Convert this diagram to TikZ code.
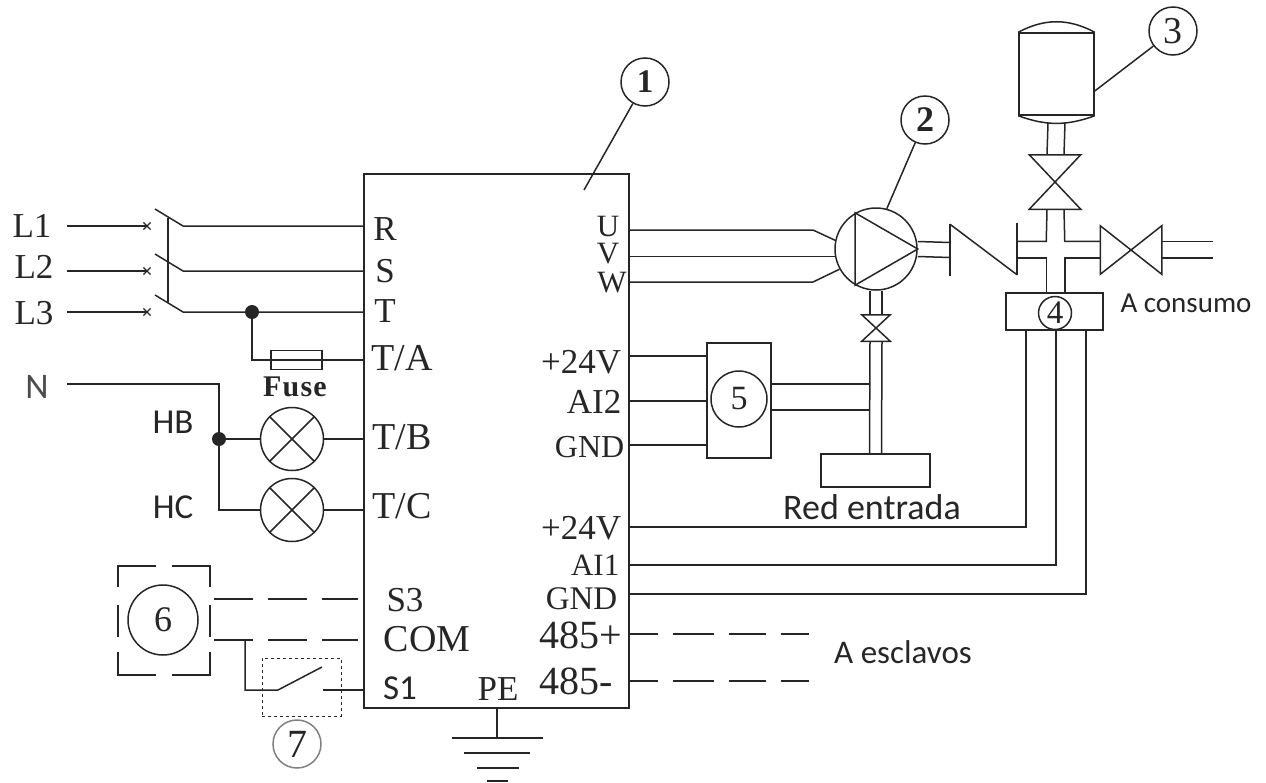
\documentclass[tikz,border=0pt]{standalone}
\usepackage{fontspec}
\setmainfont{Liberation Serif}
\newfontfamily\calibri{Carlito}
\usetikzlibrary{positioning,shapes.misc}

\begin{document}
\begin{tikzpicture}[
  x=1pt,
  y=-1pt,
  line width=1.5pt,
  color=black!85,
  lab/.style={inner sep=0pt, font=\fontsize{35}{37}\selectfont},
  wide/.style={inner sep=0pt, font=\fontsize{38}{40}\selectfont},
  tight/.style={inner sep=0pt, font=\fontsize{31}{32}\selectfont},
  side/.style={inner sep=0pt, font=\fontsize{35}{37}\calibri},
  num/.style={circle, draw, inner sep=0pt, minimum size=48pt, font=\fontsize{36}{38}\selectfont},
  lamp/.style={circle, draw, inner sep=0pt, minimum size=63pt, path picture={
    \draw (path picture bounding box.north west) -- (path picture bounding box.south east);
    \draw (path picture bounding box.north east) -- (path picture bounding box.south west);}},
  box/.style={draw, inner sep=0pt},
  ghost/.style={inner sep=0pt},
  flange/.style={inner sep=0pt, minimum width=0pt, minimum height=50pt},
  xmark/.style={cross out, draw, inner sep=0pt, minimum size=6pt, line width=1.1pt},
  dot/.style={circle, fill, inner sep=0pt, minimum size=14pt},
  dashline/.style={dash pattern=on 39pt off 15pt},
  busline/.style={dash pattern=on 28pt off 15pt on 41pt off 15pt on 37pt off 15pt on 28pt}
]

\useasboundingbox (0,0) rectangle (1266,782);

\node[box, minimum width=265pt, minimum height=534pt] (drv) at (496.5,441) {};

% bornes de entrada
\node[lab] (tR) at (385,229) {R};
\node[lab] (tS) at (385,271) {S};
\node[lab] (tT) at (385,311) {T};
\node[wide] (tTA) at (402,358) {T/A};
\node[wide] (tTB) at (402,437) {T/B};
\node[wide] (tTC) at (402,506) {T/C};
\node[lab] (tS3) at (405,600) {S3};
\node[wide] (tCOM) at (427,639) {COM};
\node[side] (tS1) at (400,688) {S1};
\node[lab] (tPE) at (498,689) {PE};

% bornes de salida
\node[tight] (tU) at (608,226) {U};
\node[tight] (tV) at (608,254) {V};
\node[tight] (tW) at (612,283) {W};
\node[lab, anchor=east] (tP24a) at (622,362) {+24V};
\node[lab, anchor=east] (tAI2) at (622,402) {AI2};
\node[lab, font=\fontsize{32}{34}\selectfont, anchor=east] (tGNDa) at (625,447) {GND};
\node[lab, anchor=east] (tP24b) at (622,528) {+24V};
\node[tight, anchor=east] (tAI1) at (620,565) {AI1};
\node[tight, font=\fontsize{33}{34}\selectfont, anchor=east] (tGNDb) at (618,599) {GND};
\node[lab, font=\fontsize{40}{42}\selectfont, anchor=east] (t485p) at (623,635) {485+};
\node[lab, font=\fontsize{40}{42}\selectfont, anchor=east] (t485m) at (614,681) {485-};

\node[num, font=\fontsize{33}{35}\selectfont] (n1) at (645,82) {\textbf{1}};
\node[num] (n2) at (925,120) {\textbf{2}};
\node[num, font=\fontsize{38}{40}\selectfont] (n3) at (1173,31) {3};
\node[num, minimum size=33pt, font=\fontsize{33}{35}\selectfont] (n4) at (1055,313) {4};
\node[num, minimum size=56pt, font=\fontsize{34}{36}\selectfont] (n5) at (739,399) {5};
\node[num, minimum size=70pt] (n6) at (163,620) {6};
\node[num, draw=black!50, font=\fontsize{40}{42}\selectfont] (n7) at (297,744) {7};

% red trifasica
\node[lab] (lL1) at (32,226) {L1};
\node[lab] (lL2) at (34,267) {L2};
\node[lab] (lL3) at (34,313) {L3};
\node[side, font=\fontsize{36}{38}\calibri, text=black!70] (lN) at (37,387) {N};
\coordinate (inL1) at (67,226);
\coordinate (inL2) at (67,271);
\coordinate (inL3) at (67,312);
\coordinate (inN) at (67,384);
\node[xmark] (xL1) at (147,226) {};
\node[xmark] (xL2) at (147,271) {};
\node[xmark] (xL3) at (147,312) {};
\coordinate (bladeL1) at (155,209);
\coordinate (bladeL2) at (155,254);
\coordinate (bladeL3) at (155,295);
\coordinate (outL1) at (183,226);
\coordinate (outL2) at (183,271);
\coordinate (outL3) at (183,312);
\coordinate (gangTop) at (168,218);
\coordinate (gangBot) at (168,302);

\draw (inL1) -- (xL1.center);
\draw (inL2) -- (xL2.center);
\draw (inL3) -- (xL3.center);
\draw (bladeL1) -- (outL1) -- (outL1 -| drv.west);
\draw (bladeL2) -- (outL2) -- (outL2 -| drv.west);
\draw (bladeL3) -- (outL3) -- (outL3 -| drv.west);
\draw (gangTop) -- (gangBot);

\node[dot] (dotT) at (252,312) {};
\node[box, minimum width=51pt, minimum height=19pt] (fuse) at (296.5,360) {};
\node[lab, font=\fontsize{30}{32}\selectfont\bfseries\addfontfeature{LetterSpace=4}] (lFuse) at (295,387) {Fuse};
\draw (dotT.center) |- (fuse.west);
\draw (fuse.west) -- (fuse.east) -- (fuse.east -| drv.west);

\node[lamp] (lampB) at (292,439) {};
\node[lamp] (lampC) at (292,510) {};
\node[dot] (dotN) at (219,439) {};
\node[side] (lHB) at (173,422) {HB};
\node[side] (lHC) at (173,507) {HC};
\draw (inN) -| (dotN.center);
\draw (dotN.center) |- (lampC.west);
\draw (dotN.center) -- (lampB.west);
\draw (lampB.east) -- (lampB.east -| drv.west);
\draw (lampC.east) -- (lampC.east -| drv.west);

% elemento 6 y contacto 7
\coordinate (c6a) at (118,566);
\coordinate (c6b) at (210,566);
\coordinate (c6c) at (210,675);
\coordinate (c6d) at (118,675);
\draw ([yshift=-21pt]c6a) -- (c6a) -- ([xshift=38pt]c6a);
\draw ([xshift=-38pt]c6b) -- (c6b) -- ([yshift=-21pt]c6b);
\draw ([yshift=23pt]c6c) -- (c6c) -- ([xshift=-38pt]c6c);
\draw ([xshift=38pt]c6d) -- (c6d) -- ([yshift=23pt]c6d);
\draw ([yshift=-39pt]c6a) -- ([yshift=-71pt]c6a);
\draw ([yshift=-39pt]c6b) -- ([yshift=-71pt]c6b);

\coordinate (s3a) at (214,599);
\coordinate (s3b) at (358,599);
\coordinate (coma) at (214,640);
\coordinate (comb) at (358,640);
\coordinate (comT) at (245,640);
\node[box, dashed, line width=1pt, minimum width=79pt, minimum height=58pt] (boxS1) at (301.5,687) {};
\coordinate (s1a) at (278,690);
\coordinate (s1b) at (322,667);
\coordinate (s1c) at (323,690);
\draw[dashline] (s3a) -- (s3b);
\draw[dashline] (coma) -- (comb);
\draw (comT) |- (s1a) -- (s1b);
\draw (s1c) -- (s1c -| drv.west);

% tierra
\coordinate (pe) at (497,708);
\coordinate (g1) at (497,738);
\node[ghost, minimum width=89pt] (gnd1) at (497.5,738) {};
\node[ghost, minimum width=64pt] (gnd2) at (497,753) {};
\node[ghost, minimum width=40pt] (gnd3) at (498,768) {};
\node[ghost, minimum width=19pt] (gnd4) at (497.5,781) {};
\draw (pe) -- (g1);
\draw (gnd1.west) -- (gnd1.east);
\draw (gnd2.west) -- (gnd2.east);
\draw (gnd3.west) -- (gnd3.east);
\draw (gnd4.west) -- (gnd4.east);

% bomba
\node[circle, draw, inner sep=0pt, minimum size=82pt] (pump) at (876,249) {};
\draw (pump.120) -- (pump.240) -- (pump.east) -- cycle;
\coordinate (kU) at (813,230);
\coordinate (kW) at (813,282);
\draw (kU -| drv.east) -- (kU) -- (pump.168);
\draw (pump.190 -| drv.east) -- (pump.190);
\draw (kW -| drv.east) -- (kW) -- (pump.209);

\node[ghost, flange] (flA) at (950,250) {};
\node[ghost, flange] (flB) at (1017,249) {};
\node[ghost, minimum width=17pt, minimum height=15pt] (cross) at (1055.5,249.5) {};
\draw (flA.north) -- (flA.south);
\draw (flB.north) -- (flB.south);
\draw (flA.north) -- (flB.south);
\draw ([yshift=7.5pt]pump.east) -- ([yshift=7.5pt]flA.center);
\draw ([yshift=-7.5pt]pump.east) -- ([yshift=-7.5pt]flA.center);

% deposito y valvulas
\node[box, minimum width=75pt, minimum height=82pt] (tank) at (1056.5,74) {};
\draw (tank.north west) to[bend left=28] (tank.north east);
\draw (tank.south west) to[bend right=20] (tank.south east);

\node[ghost, minimum width=50pt, minimum height=53pt] (vTop) at (1055,182) {};
\draw (vTop.north west) -- (vTop.north east) -- (vTop.south west) -- (vTop.south east) -- cycle;
\node[ghost, minimum width=60pt, minimum height=47pt] (vOut) at (1131,250) {};
\draw (vOut.north west) -- (vOut.south west) -- (vOut.north east) -- (vOut.south east) -- cycle;
\node[ghost, minimum width=27pt, minimum height=25pt] (vIn) at (876,328) {};
\draw (vIn.north west) -- (vIn.north east) -- (vIn.south west) -- (vIn.south east) -- cycle;

\node[box, minimum width=97pt, minimum height=37pt] (trans4) at (1054.5,311.5) {};
\node[ghost, minimum width=50pt, minimum height=15pt] (outEnd) at (1187,249.5) {};
\node[side, font=\fontsize{29}{31}\calibri] (lCons) at (1186,303) {A consumo};

\draw ([xshift=-8.5pt,yshift=-7pt]tank.south) -- ([xshift=-8pt]vTop.north);
\draw ([xshift=8.5pt,yshift=-7pt]tank.south) -- ([xshift=9pt]vTop.north);
\draw ([xshift=-8pt]vTop.south) -- (cross.north west) -- (cross.north west -| flB);
\draw ([xshift=9pt]vTop.south) -- (cross.north east) -- (cross.north east -| vOut.west);
\draw (flB |- cross.south west) -- (cross.south west) -- (cross.south west |- trans4.north);
\draw (vOut.west |- cross.south east) -- (cross.south east) -- (cross.south east |- trans4.north);
\draw (outEnd.north west) -- (outEnd.north east);
\draw (outEnd.south west) -- (outEnd.south east);

% tuberia de entrada
\node[box, minimum width=109pt, minimum height=33pt] (tankIn) at (875.5,470.5) {};
\node[side, font=\fontsize{36}{38}\calibri] (lRed) at (872,507) {Red entrada};
\draw ([xshift=-6pt]pump.south) -- ([xshift=-6pt]vIn.north);
\draw ([xshift=6pt]pump.south) -- ([xshift=6pt]vIn.north);
\draw ([xshift=-6pt]vIn.south) -- ([xshift=-6pt]tankIn.north);
\draw ([xshift=6pt]vIn.south) -- ([xshift=6pt]tankIn.north);

% transmisor 5
\node[box, minimum width=64pt, minimum height=115pt] (trans5) at (739,400.5) {};
\coordinate (w5a) at (707,356);
\coordinate (w5b) at (707,401);
\coordinate (w5c) at (707,445);
\coordinate (w5d) at (771,384);
\coordinate (w5e) at (771,410);
\coordinate (pipeIn) at (870,384);
\draw (w5a -| drv.east) -- (w5a);
\draw (w5b -| drv.east) -- (w5b);
\draw (w5c -| drv.east) -- (w5c);
\draw (w5d) -- (pipeIn);
\draw (w5e) -- (w5e -| pipeIn);

% transmisor 4
\coordinate (w4a) at (1026,527);
\coordinate (w4b) at (1056,565);
\coordinate (w4c) at (1086,594);
\draw (w4a -| drv.east) -- (w4a) -- (w4a |- trans4.south);
\draw (w4b -| drv.east) -- (w4b) -- (w4b |- trans4.south);
\draw (w4c -| drv.east) -- (w4c) -- (w4c |- trans4.south);

% esclavos
\coordinate (busP) at (809,634);
\coordinate (busM) at (809,681);
\draw[busline] (busP -| drv.east) -- (busP);
\draw[busline] (busM -| drv.east) -- (busM);
\node[side, font=\fontsize{33}{35}\calibri] (lEsc) at (903,652) {A esclavos};

% llamadas
\coordinate (cl1) at (584,190);
\draw (n1) -- (cl1);
\draw (n2) -- (pump.75);
\draw (n3) -- (tank.east |- 0,91);

\end{tikzpicture}
\end{document}
